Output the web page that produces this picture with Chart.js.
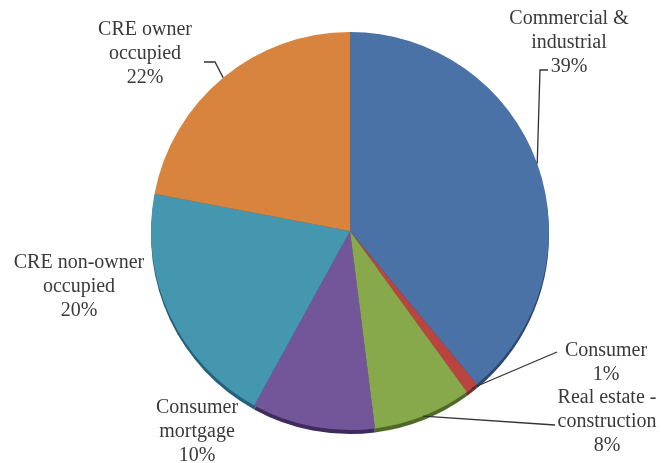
<!DOCTYPE html>
<html>
<head>
<meta charset="utf-8">
<script src="https://cdn.jsdelivr.net/npm/chart.js@4/dist/chart.umd.min.js"></script>
<style>
  html, body { margin: 0; padding: 0; background: #fff; }
  #wrap { width: 672px; height: 463px; }
</style>
</head>
<body>
<div id="wrap"><canvas id="loanChart" width="672" height="463"></canvas></div>
<script>
// Loan portfolio mix, clockwise from 12 o'clock
const categories = ["Commercial & industrial", "Consumer", "Real estate - construction", "Consumer mortgage", "CRE non-owner occupied", "CRE owner occupied"];
const shares = [39, 1, 8, 10, 20, 22];
const labelLines = [
  ["Commercial &", "industrial", "39%"],
  ["Consumer", "1%"],
  ["Real estate -", "construction", "8%"],
  ["Consumer", "mortgage", "10%"],
  ["CRE non-owner", "occupied", "20%"],
  ["CRE owner", "occupied", "22%"]
];
const sliceColors = ["#4a72a6", "#b94440", "#88a84c", "#73569a", "#4597b0", "#d8843f"];
const rimColors   = ["#2c4870", "#7a2a28", "#4f6a26", "#3e2c5c", "#25607a", "#8f5120"];

// where each label block sits (centre x, first line y) and its leader bends
const labelPos = [
  {x: 569, y: 19, leader: [[540, 70], [548, 70]]},
  {x: 606, y: 351, leader: [[557, 352]]},
  {x: 607, y: 398, leader: [[555, 425]]},
  {x: 197, y: 408, leader: null},
  {x: 79, y: 263, leader: null},
  {x: 145, y: 30, leader: [[215, 62], [204, 62]]}
];

const pieExtras = {
  id: "pieExtras",
  beforeDatasetsDraw(chart) {
    // darker rim under the bottom of the pie (fake 3D edge)
    const ctx = chart.ctx;
    const arcs = chart.getDatasetMeta(0).data;
    ctx.save();
    arcs.forEach((a, i) => {
      ctx.beginPath();
      ctx.moveTo(a.x, a.y + 4);
      ctx.arc(a.x, a.y + 4, a.outerRadius, a.startAngle, a.endAngle);
      ctx.closePath();
      ctx.fillStyle = rimColors[i];
      ctx.fill();
    });
    ctx.restore();
  },
  afterDatasetsDraw(chart) {
    const ctx = chart.ctx;
    const arcs = chart.getDatasetMeta(0).data;
    ctx.save();
    ctx.font = "20px 'Liberation Serif', 'Times New Roman', serif";
    ctx.fillStyle = "#3a3a3a";
    ctx.textAlign = "center";
    ctx.textBaseline = "middle";
    arcs.forEach((a, i) => {
      const pos = labelPos[i];
      if (pos.leader) {
        const mid = (a.startAngle + a.endAngle) / 2;
        const ex = a.x + Math.cos(mid) * a.outerRadius;
        const ey = a.y + Math.sin(mid) * a.outerRadius;
        ctx.beginPath();
        ctx.moveTo(ex, ey);
        pos.leader.forEach(p => ctx.lineTo(p[0], p[1]));
        ctx.strokeStyle = "#333";
        ctx.lineWidth = 1.3;
        ctx.stroke();
      }
      labelLines[i].forEach((line, k) => {
        ctx.fillText(line, pos.x, pos.y + k * 24);
      });
    });
    ctx.restore();
  }
};

new Chart("loanChart", {
  type: "pie",
  data: {
    labels: categories,
    datasets: [{
      data: shares,
      backgroundColor: sliceColors,
      borderWidth: 0
    }]
  },
  options: {
    responsive: false,
    animation: false,
    layout: {padding: {left: 151, right: 123, top: 32, bottom: 33}},
    plugins: {
      legend: {display: false},
      tooltip: {enabled: false}
    }
  },
  plugins: [pieExtras]
});
</script>
</body>
</html>
